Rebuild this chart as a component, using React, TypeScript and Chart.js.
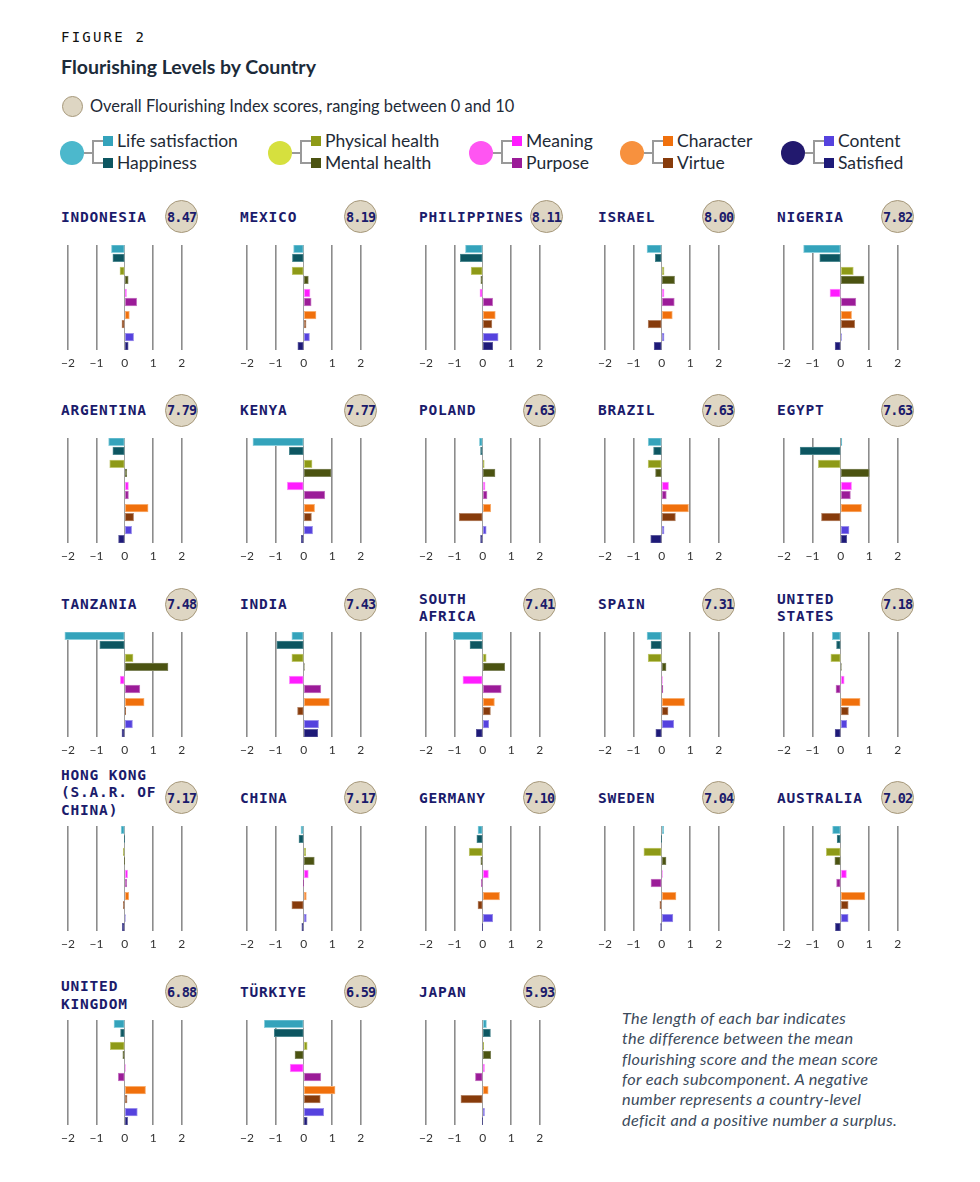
import React, { useEffect, useRef } from "react";
import { Chart, registerables } from "chart.js";

Chart.register(...registerables);

// ---------- DATA ----------
const COUNTRIES = [
  "INDONESIA", "MEXICO", "PHILIPPINES", "ISRAEL", "NIGERIA",
  "ARGENTINA", "KENYA", "POLAND", "BRAZIL", "EGYPT",
  "TANZANIA", "INDIA", "SOUTH\nAFRICA", "SPAIN", "UNITED\nSTATES",
  "HONG KONG\n(S.A.R. OF\nCHINA)", "CHINA", "GERMANY", "SWEDEN", "AUSTRALIA",
  "UNITED\nKINGDOM", "TÜRKIYE", "JAPAN",
];
const SCORES = [
  8.47, 8.19, 8.11, 8.0, 7.82,
  7.79, 7.77, 7.63, 7.63, 7.63,
  7.48, 7.43, 7.41, 7.31, 7.18,
  7.17, 7.17, 7.1, 7.04, 7.02,
  6.88, 6.59, 5.93,
];
const COMPONENTS = [
  "Life satisfaction", "Happiness", "Physical health", "Mental health",
  "Meaning", "Purpose", "Character", "Virtue", "Content", "Satisfied",
];
const LIFE_SATISFACTION = [-0.47, -0.36, -0.61, -0.52, -1.31, -0.57, -1.79, -0.12, -0.48, 0.04, -2.11, -0.42, -1.04, -0.52, -0.3, -0.13, -0.1, -0.17, 0.07, -0.29, -0.38, -1.39, 0.13];
const HAPPINESS = [-0.42, -0.4, -0.79, -0.23, -0.74, -0.42, -0.51, -0.08, -0.29, -1.43, -0.88, -0.95, -0.45, -0.38, -0.15, -0.01, -0.17, -0.21, -0.01, -0.13, -0.15, -1.04, 0.27];
const PHYSICAL_HEALTH = [-0.17, -0.41, -0.41, 0.08, 0.44, -0.53, 0.29, 0.05, -0.48, -0.79, 0.29, -0.42, 0.12, -0.48, -0.35, -0.05, 0.07, -0.48, -0.63, -0.51, -0.51, 0.12, 0.03];
const MENTAL_HEALTH = [0.12, 0.16, -0.07, 0.45, 0.82, 0.07, 0.96, 0.43, -0.22, 1.0, 1.52, 0.01, 0.77, 0.15, 0.01, -0.01, 0.37, -0.07, 0.15, -0.21, -0.07, -0.31, 0.28];
const MEANING = [0.06, 0.22, -0.1, 0.08, -0.38, 0.13, -0.58, 0.08, 0.24, 0.38, -0.16, -0.51, -0.7, 0.01, 0.12, 0.1, 0.16, 0.2, 0.01, 0.2, 0.01, -0.48, 0.06];
const PURPOSE = [0.42, 0.26, 0.35, 0.44, 0.53, 0.13, 0.74, 0.15, 0.16, 0.34, 0.53, 0.6, 0.65, 0.04, -0.17, 0.07, -0.01, -0.05, -0.38, -0.15, -0.23, 0.6, -0.26];
const CHARACTER = [0.16, 0.43, 0.44, 0.37, 0.38, 0.82, 0.38, 0.28, 0.94, 0.73, 0.68, 0.9, 0.41, 0.8, 0.68, 0.14, 0.09, 0.59, 0.5, 0.85, 0.73, 1.1, 0.19];
const VIRTUE = [-0.1, 0.08, 0.32, -0.48, 0.49, 0.31, 0.27, -0.83, 0.48, -0.68, 0.03, -0.22, 0.27, 0.22, 0.27, -0.05, -0.42, -0.17, -0.07, 0.26, 0.08, 0.58, -0.77];
const CONTENT = [0.31, 0.2, 0.54, 0.08, 0.02, 0.24, 0.31, 0.12, 0.08, 0.29, 0.27, 0.52, 0.21, 0.42, 0.21, 0.01, 0.09, 0.35, 0.39, 0.26, 0.44, 0.7, 0.06];
const SATISFIED = [0.12, -0.21, 0.35, -0.27, -0.2, -0.22, -0.09, -0.08, -0.39, 0.21, -0.1, 0.49, -0.23, -0.21, -0.2, -0.09, -0.07, -0.01, -0.04, -0.19, 0.1, 0.12, -0.01];
const TICK_VALUES = [-2, -1, 0, 1, 2];

const SERIES = [LIFE_SATISFACTION, HAPPINESS, PHYSICAL_HEALTH, MENTAL_HEALTH, MEANING, PURPOSE, CHARACTER, VIRTUE, CONTENT, SATISFIED];

// ---------- STYLE ----------
const BAR_COLORS = ["#34a3bb", "#0d5661", "#8e9a17", "#4b5311", "#ff1cff", "#9b1b98", "#f0700c", "#873b0b", "#5542de", "#1e1a78"];
const BAR_BORDERS = ["#8ccfdc", "#4d8890", "#c0c76f", "#7e845a", "#ff8cff", "#c67ac4", "#f8ae70", "#b48466", "#9a8eea", "#5f5c9e"];
const GROUP_COLORS = ["#4cb8cc", "#d6e03e", "#ff55f2", "#f7913e", "#22196e"];
const GROUP_X = [72, 280, 481, 632, 793];
const NAVY = "#1b1b6b";
const MONO = '"DejaVu Sans Mono", "Liberation Mono", monospace';
const SANS = 'Lato, "Noto Sans", sans-serif';

const COL_X0 = 66.7; // pixel of -2 on first column
const COL_STEP = 179;
const ROW_TOP0 = 244.5;
const ROW_STEP = 193.75;
const UNIT = 28.75;
const X_PAD = 0.4;
const CANVAS_W = Math.round((4 + 2 * X_PAD) * UNIT);
const AREA_H = 105;
const AXIS_H = 21;
const PAIR_STEP = 22.1;
const WITHIN = 9;
const barPos = (i: number) => Math.floor(i / 2) * PAIR_STEP + (i % 2) * WITHIN;

function Panel({ idx }: { idx: number }) {
  const ref = useRef<HTMLCanvasElement>(null);
  useEffect(() => {
    if (!ref.current) return;
    const data = COMPONENTS.map((_, i) => ({ x: SERIES[i][idx], y: barPos(i) }));
    const chart = new Chart(ref.current, {
      type: "bar",
      data: {
        datasets: [
          {
            data,
            backgroundColor: BAR_COLORS,
            borderColor: BAR_BORDERS,
            borderWidth: 1,
            borderSkipped: false,
            barThickness: 7.6,
          } as any,
        ],
      },
      options: {
        indexAxis: "y",
        responsive: false,
        animation: false,
        events: [],
        layout: { padding: 0 },
        plugins: { legend: { display: false }, tooltip: { enabled: false } },
        scales: {
          y: {
            type: "linear",
            display: false,
            reverse: true,
            offset: false,
            grid: { offset: false },
            min: -3.75,
            max: barPos(9) + 3.75,
          },
          x: {
            type: "linear",
            min: -2 - X_PAD,
            max: 2 + X_PAD,
            offset: false,
            afterBuildTicks: (scale: any) => {
              scale.ticks = TICK_VALUES.map((v) => ({ value: v }));
            },
            afterFit: (scale: any) => {
              scale.height = AXIS_H;
            },
            border: { display: false },
            grid: {
              drawTicks: false,
              color: (ctx: any) => (ctx.tick && ctx.tick.value === 0 ? "#a0a0a0" : "#8c8c8c"),
              lineWidth: (ctx: any) => (ctx.tick && ctx.tick.value === 0 ? 1 : 1.6),
            },
            ticks: {
              padding: 6,
              color: "#333333",
              font: { family: SANS, size: 12 },
              callback: (v: any) => (Number(v) < 0 ? "\u2212" + Math.abs(Number(v)) : String(v)),
            },
          },
        },
      } as any,
    });
    return () => chart.destroy();
  }, [idx]);

  const col = idx % 5;
  const row = Math.floor(idx / 5);
  const top = ROW_TOP0 + row * ROW_STEP;
  const x2 = COL_X0 + col * COL_STEP + 4 * UNIT;
  const nameLeft = 61 + col * COL_STEP;
  const lines = COUNTRIES[idx].split("\n");
  const longest = Math.max(...lines.map((l) => l.length));
  const badgeX = Math.max(x2, nameLeft + longest * 9.5 + 23);
  const badgeY = top - 28;
  const lineH = 17.5;

  return (
    <>
      <canvas
        ref={ref}
        width={CANVAS_W}
        height={AREA_H + AXIS_H}
        style={{
          position: "absolute",
          left: COL_X0 + col * COL_STEP - X_PAD * UNIT,
          top,
          width: CANVAS_W,
          height: AREA_H + AXIS_H,
        }}
      />
      {lines.map((l, i) => {
        const cy = lines.length === 1 ? top - 28 : top - 16 - (lines.length - 1 - i) * lineH;
        return (
          <div
            key={i}
            style={{
              position: "absolute",
              left: nameLeft,
              top: cy - 10,
              height: 20,
              lineHeight: "20px",
              fontFamily: MONO,
              fontWeight: 700,
              fontSize: 14.5,
              letterSpacing: 0.8,
              color: NAVY,
              whiteSpace: "pre",
            }}
          >
            {l}
          </div>
        );
      })}
      <div
        style={{
          position: "absolute",
          left: badgeX - 16.5,
          top: badgeY - 16.5,
          width: 33,
          height: 33,
          boxSizing: "border-box",
          borderRadius: "50%",
          background: "#ded6c3",
          border: "1.5px solid #a6987a",
          display: "flex",
          alignItems: "center",
          justifyContent: "center",
          fontFamily: MONO,
          fontWeight: 700,
          fontSize: 13.5,
          letterSpacing: -0.8,
          color: NAVY,
        }}
      >
        {SCORES[idx].toFixed(2)}
      </div>
    </>
  );
}

function Text({ x, y, children, style }: any) {
  return (
    <div
      style={{
        position: "absolute",
        left: x,
        top: y - 12,
        height: 24,
        lineHeight: "24px",
        whiteSpace: "pre",
        fontFamily: SANS,
        fontSize: 16,
        color: "#1e2a36",
        ...style,
      }}
    >
      {children}
    </div>
  );
}

function Box({ x, y, w, h, bg, style }: any) {
  return <div style={{ position: "absolute", left: x, top: y, width: w, height: h, background: bg, ...style }} />;
}

function LegendGroup({ g }: { g: number }) {
  const c = GROUP_X[g];
  const cy = 153;
  const y1 = 141;
  const y2 = 163;
  const line = "#999999";
  return (
    <>
      <Box x={c - 12} y={cy - 12} w={24} h={24} bg={GROUP_COLORS[g]} style={{ borderRadius: "50%" }} />
      <Box x={c + 12} y={cy - 0.75} w={9} h={1.5} bg={line} />
      <Box x={c + 20.25} y={y1 - 0.75} w={1.5} h={y2 - y1 + 1.5} bg={line} />
      <Box x={c + 21} y={y1 - 0.75} w={10} h={1.5} bg={line} />
      <Box x={c + 21} y={y2 - 0.75} w={10} h={1.5} bg={line} />
      <Box x={c + 31} y={y1 - 5} w={10} h={10} bg={BAR_COLORS[g * 2]} />
      <Box x={c + 31} y={y2 - 5} w={10} h={10} bg={BAR_COLORS[g * 2 + 1]} />
      <Text x={c + 45} y={y1} style={{ fontSize: 17.5 }}>{COMPONENTS[g * 2]}</Text>
      <Text x={c + 45} y={y2} style={{ fontSize: 17.5 }}>{COMPONENTS[g * 2 + 1]}</Text>
    </>
  );
}

const NOTE_LINES = [
  "The length of each bar indicates",
  "the difference between the mean",
  "flourishing score and the mean score",
  "for each subcomponent. A negative",
  "number represents a country-level",
  "deficit and a positive number a surplus.",
];

export default function App() {
  return (
    <div style={{ position: "absolute", left: 0, top: 0, width: 980, height: 1182, background: "#ffffff", overflow: "hidden" }}>
      <Text x={61} y={37} style={{ fontFamily: MONO, fontSize: 14, letterSpacing: 2.2, color: "#111111" }}>
        FIGURE 2
      </Text>
      <Text x={61} y={67} style={{ fontWeight: 700, fontSize: 19.5, color: "#1c2b3a" }}>
        Flourishing Levels by Country
      </Text>
      <Box
        x={61.5}
        y={95.5}
        w={21}
        h={21}
        bg="#ded6c3"
        style={{ borderRadius: "50%", border: "1.5px solid #a6987a", boxSizing: "border-box" }}
      />
      <Text x={90} y={106} style={{ fontSize: 16.4 }}>Overall Flourishing Index scores, ranging between 0 and 10</Text>
      {GROUP_X.map((_, g) => (
        <LegendGroup key={g} g={g} />
      ))}
      {COUNTRIES.map((_, i) => (
        <Panel key={i} idx={i} />
      ))}
      {NOTE_LINES.map((l, i) => (
        <Text
          key={i}
          x={622}
          y={1018 + i * 20.3}
          style={{ fontStyle: "italic", fontSize: 16.3, letterSpacing: 0.3, color: "#3b4a5b" }}
        >
          {l}
        </Text>
      ))}
    </div>
  );
}
